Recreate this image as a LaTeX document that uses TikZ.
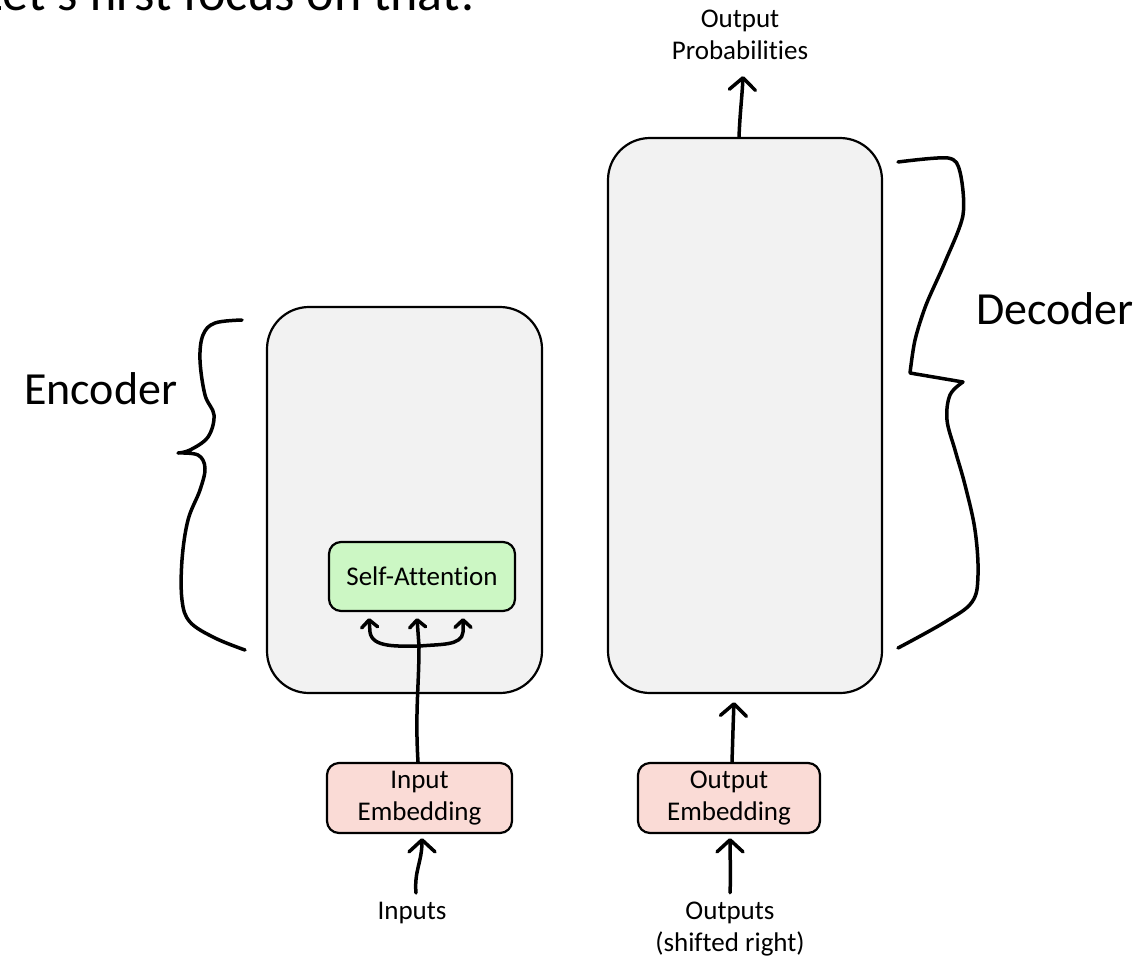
\documentclass[tikz,border=0pt]{standalone}
\usepackage{fontspec}
\setmainfont{Carlito}[Ligatures=NoCommon]
\usetikzlibrary{arrows.meta}
\definecolor{boxgray}{RGB}{242,242,242}
\definecolor{sagreen}{RGB}{204,247,196}
\definecolor{embpink}{RGB}{250,219,214}
\newcommand\smalltxt{\fontsize{27}{32}\selectfont}
\newcommand\bigtxt{\fontsize{46}{55}\selectfont}
\newcommand\titletxt{\fontsize{52}{62}\selectfont}
\begin{document}
\begin{tikzpicture}[x=1pt,y=-1pt,
  bigbox/.style={draw=black,line width=2.2pt,fill=boxgray,rounded corners=42pt,inner sep=0pt},
  smallbox/.style={draw=black,line width=2.2pt,rounded corners=12pt,inner sep=0pt,align=center,font=\smalltxt},
  lbl/.style={inner sep=0pt,align=center,font=\smalltxt},
  biglbl/.style={inner sep=0pt,anchor=base west,font=\bigtxt},
  hand/.style={line width=3.5pt,line cap=round,line join=round},
  arr/.style={hand,-{Straight Barb[round,length=12pt,width=26pt]}},
  sarr/.style={hand,-{Straight Barb[round,length=7.5pt,width=16pt]}},
]
\path[use as bounding box, clip] (0,0) rectangle (1142,962);

\node[anchor=base east,inner sep=0pt,font=\titletxt] (title) at (477,10) {Let’s first focus on that!};

% big boxes
\node[bigbox,minimum width=275pt,minimum height=386pt] (enc) at (404.5,500) {};
\node[bigbox,minimum width=274pt,minimum height=555pt] (dec) at (745,415.5) {};

% inner boxes
\node[smallbox,fill=sagreen,minimum width=186pt,minimum height=69pt] (sa) at (422,576.5) {Self-Attention};
\node[smallbox,fill=embpink,minimum width=185pt,minimum height=70pt] (inemb) at (419.5,798) {Input\\Embedding};
\node[smallbox,fill=embpink,minimum width=182pt,minimum height=70pt] (outemb) at (729,798) {Output\\Embedding};

% labels
\node[lbl] (inputs) at (412,913) {Inputs};
\node[lbl] (outputs) at (730,929) {Outputs\\(shifted right)};
\node[lbl] (outprob) at (740,35) {Output\\Probabilities};
\node[biglbl] (enclbl) at (24,404) {Encoder};
\node[biglbl] (declbl) at (976,324) {Decoder};

% arrows
\draw[arr] ([shift={(4pt,9pt)}]inputs.north) .. controls +(-2,-22) and +(0,24) .. ([shift={(2.5pt,-4pt)}]inemb.south);
\draw[arr] ([shift={(0pt,9pt)}]outputs.north) .. controls +(1,-22) and +(0,24) .. ([shift={(1pt,-4pt)}]outemb.south);
\draw[arr] ([xshift=3pt]outemb.north) .. controls +(1,-30) and +(-1,25) .. ([shift={(-11pt,-8pt)}]dec.south);
\draw[arr] ([xshift=-6pt]dec.north) .. controls +(1,-25) and +(-1,22) .. ([shift={(3pt,-16pt)}]outprob.south);

\coordinate (fork) at ([shift={(-3pt,-34pt)}]sa.south);
\draw[sarr] ([xshift=-1.5pt]inemb.north) .. controls +(-3,-50) and +(0,40) .. (fork) -- ([shift={(-5pt,-6pt)}]sa.south);
\draw[sarr] (fork) .. controls (398,646) and (372,648) .. (370,632) -- ([shift={(-53pt,-6pt)}]sa.south);
\draw[sarr] (fork) .. controls (440,644) and (462,646) .. (463,632) -- ([shift={(41pt,-6pt)}]sa.south);

% braces
\draw[hand] plot[smooth,tension=0.6] coordinates {(242,320) (215,323) (203,335) (200,360) (205,395) (214,415) (208,437) (190,450) (178,453)}
  -- plot[smooth,tension=0.6] coordinates {(178,453) (198,455) (205,468) (200,490) (188,520) (182,560) (182,600) (190,622) (215,638) (245,650)};
\draw[hand] plot[smooth,tension=0.5] coordinates {(898,162) (948,158) (960,172) (963,215) (945,262) (926,305) (915,340) (910,373)}
  -- (963,382)
  -- plot[smooth,tension=0.6] coordinates {(963,382) (950,395) (947,420) (955,450) (965,485) (975,530) (978,575) (972,602) (945,622) (898,648)};
\end{tikzpicture}
\end{document}
